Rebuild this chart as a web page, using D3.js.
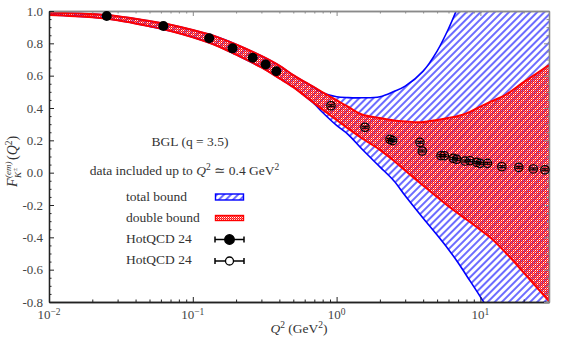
<!DOCTYPE html>
<html>
<head>
<meta charset="utf-8">
<script src="https://cdn.jsdelivr.net/npm/d3@7"></script>
<style>
  body { margin: 0; background: #fff; }
  svg text { font-family: "Liberation Serif", "DejaVu Serif", serif; }
</style>
</head>
<body>
<svg width="567" height="340"></svg>
<script>
// band grid (Q^2 in GeV^2) and double bound edges
const bandQ2 = [0.01, 0.02, 0.03, 0.05, 0.07, 0.1, 0.15, 0.2, 0.3, 0.4, 0.5, 0.6, 0.7, 0.8, 1, 1.2, 1.5, 2, 2.5, 3, 4, 5, 6, 7, 8, 10, 12, 15, 20, 25, 30];
const doubleUpper = [0.991, 0.981, 0.968, 0.938, 0.915, 0.882, 0.837, 0.793, 0.722, 0.662, 0.603, 0.561, 0.527, 0.497, 0.448, 0.408, 0.360, 0.338, 0.323, 0.317, 0.313, 0.326, 0.339, 0.351, 0.367, 0.409, 0.442, 0.482, 0.560, 0.618, 0.666];
const doubleLower = [0.975, 0.961, 0.943, 0.905, 0.876, 0.837, 0.782, 0.730, 0.651, 0.583, 0.529, 0.475, 0.429, 0.390, 0.326, 0.274, 0.213, 0.141, 0.074, 0.014, -0.080, -0.151, -0.208, -0.253, -0.290, -0.354, -0.409, -0.495, -0.618, -0.715, -0.795];

// total bound edges
const totalUpperQ2 = [0.01, 0.02, 0.03, 0.05, 0.07, 0.1, 0.15, 0.2, 0.3, 0.4, 0.5, 0.6, 0.7, 0.8, 1, 1.2, 1.5, 2, 2.5, 3, 4, 5, 6, 7];
const totalUpper = [0.991, 0.981, 0.968, 0.938, 0.915, 0.882, 0.837, 0.793, 0.722, 0.662, 0.603, 0.561, 0.527, 0.495, 0.470, 0.464, 0.463, 0.470, 0.502, 0.535, 0.628, 0.752, 0.890, 1.03];
const totalLowerQ2 = [0.01, 0.02, 0.03, 0.05, 0.07, 0.1, 0.15, 0.2, 0.3, 0.4, 0.5, 0.6, 0.7, 0.8, 1, 1.2, 1.5, 2, 2.5, 3, 4, 5, 6, 7, 8, 10, 12];
const totalLower = [0.975, 0.961, 0.943, 0.905, 0.876, 0.837, 0.782, 0.730, 0.651, 0.583, 0.529, 0.475, 0.425, 0.372, 0.292, 0.237, 0.146, 0.036, -0.050, -0.143, -0.282, -0.386, -0.475, -0.557, -0.636, -0.768, -0.88];

// HotQCD 24 lattice points (filled: used in fit, open: not used)
const filledQ2 = [0.0252, 0.0624, 0.130, 0.189, 0.261, 0.321, 0.381];
const filledF = [0.969, 0.907, 0.831, 0.769, 0.711, 0.669, 0.627];
const filledErr = [0.004, 0.004, 0.005, 0.005, 0.005, 0.005, 0.005];
const openQ2 = [0.914, 1.576, 2.35, 2.455, 3.80, 3.94, 5.32, 5.61, 6.48, 6.84, 7.82, 8.47, 9.42, 9.94, 11.2, 14.1, 18.5, 23.3, 28.1];
const openF = [0.414, 0.281, 0.206, 0.198, 0.188, 0.134, 0.105, 0.105, 0.089, 0.083, 0.072, 0.074, 0.064, 0.058, 0.058, 0.037, 0.033, 0.023, 0.018];
const openErr = [0.006, 0.006, 0.006, 0.006, 0.006, 0.006, 0.006, 0.006, 0.006, 0.006, 0.006, 0.006, 0.006, 0.006, 0.006, 0.006, 0.006, 0.006, 0.006];

// ticks
const yMajor = [-0.8, -0.6, -0.4, -0.2, 0.0, 0.2, 0.4, 0.6, 0.8, 1.0];
const xMajor = [0.01, 0.1, 1, 10];
const xExp = ["\u22122", "\u22121", "0", "1"];

const svg = d3.select("svg");
const margin = { top: 11, right: 18, bottom: 38, left: 49 };
const width = +svg.attr("width") - margin.left - margin.right;
const height = +svg.attr("height") - margin.top - margin.bottom;

const x = d3.scaleLog().domain([0.01, 30]).range([0, width]);
const y = d3.scaleLinear().domain([-0.8, 1.0]).range([height, 0]);

const defs = svg.append("defs");
defs.append("clipPath").attr("id", "plotclip")
  .append("rect").attr("width", width).attr("height", height);

const hatch = defs.append("pattern").attr("id", "hatch")
  .attr("patternUnits", "userSpaceOnUse")
  .attr("width", 5).attr("height", 5)
  .attr("patternTransform", "rotate(45)");
hatch.append("line").attr("x1", 1).attr("y1", 0).attr("x2", 1).attr("y2", 5)
  .attr("stroke", "#0a0aff").attr("stroke-width", 1.2);

// fine red dot texture, one cell left open so the hatch shows through
const cross = defs.append("pattern").attr("id", "cross")
  .attr("patternUnits", "userSpaceOnUse")
  .attr("width", 2).attr("height", 2);
[[0, 0, 1], [1, 1, 1], [1, 0, 0.6]].forEach(([a, b, o]) => {
  cross.append("rect").attr("x", a).attr("y", b).attr("width", 1).attr("height", 1)
    .attr("fill", "#ff1414").attr("fill-opacity", o).attr("shape-rendering", "crispEdges");
});

const g = svg.append("g").attr("transform", `translate(${margin.left},${margin.top})`);
const plot = g.append("g").attr("clip-path", "url(#plotclip)");

const pts = (qs, vs) => qs.map((q, i) => ({ q, v: vs[i] }));
const upPts = pts(totalUpperQ2, totalUpper);
const loPts = pts(totalLowerQ2, totalLower);
const band = bandQ2.map((q, i) => ({ q, hi: doubleUpper[i], lo: doubleLower[i] }));

const line = d3.line().x(d => x(d.q)).y(d => y(d.v)).curve(d3.curveCatmullRom);

// total bound fill: upper edge, out past the right side, back along lower edge
const upPath = line(upPts);
const loRev = line(loPts.slice().reverse()).replace(/^M/, "L");
const lastUp = upPts[upPts.length - 1];
const lastLo = loPts[loPts.length - 1];
const totalPath = upPath +
  `L${x(30) + 5},${y(lastUp.v)}L${x(30) + 5},${y(lastLo.v)}` + loRev + "Z";

plot.append("path").attr("d", totalPath).attr("fill", "url(#hatch)").attr("stroke", "none");

const area = d3.area().x(d => x(d.q)).y0(d => y(d.lo)).y1(d => y(d.hi)).curve(d3.curveCatmullRom);
plot.append("path").datum(band).attr("d", area).attr("fill", "url(#cross)");

[upPts, loPts].forEach(p => {
  plot.append("path").attr("d", line(p)).attr("fill", "none")
    .attr("stroke", "#0000ff").attr("stroke-width", 1.6);
});
[pts(bandQ2, doubleUpper), pts(bandQ2, doubleLower)].forEach(p => {
  plot.append("path").attr("d", line(p)).attr("fill", "none")
    .attr("stroke", "#ff0000").attr("stroke-width", 2);
});

// axes
const minorX = [];
[-2, -1, 0, 1].forEach(k => {
  for (let m = 2; m <= 9; m++) {
    const v = m * Math.pow(10, k);
    if (v <= 30) minorX.push(v);
  }
});
const minorY = d3.range(0, 37).filter(i => i % 4 !== 0).map(i => -0.8 + i * 0.05);

function styleAxis(sel, color) {
  sel.select(".domain").attr("stroke", color).attr("stroke-width", 1.3);
  sel.selectAll(".tick line").attr("stroke", color).attr("stroke-width", 1);
  sel.selectAll(".tick text").remove();
}

const axes = [
  [d3.axisBottom(x).tickValues(xMajor).tickSizeInner(-5), `translate(0,${height})`, "#222"],
  [d3.axisBottom(x).tickValues(minorX).tickSizeInner(-2.5), `translate(0,${height})`, "#222"],
  [d3.axisTop(x).tickValues(xMajor).tickSizeInner(-5), "translate(0,0)", "#8a8a8a"],
  [d3.axisTop(x).tickValues(minorX).tickSizeInner(-2.5), "translate(0,0)", "#8a8a8a"],
  [d3.axisRight(y).tickValues(yMajor).tickSizeInner(-5), `translate(${width},0)`, "#8a8a8a"],
  [d3.axisRight(y).tickValues(minorY).tickSizeInner(-2.5), `translate(${width},0)`, "#8a8a8a"],
  [d3.axisLeft(y).tickValues(minorY).tickSizeInner(-2.5), "translate(0,0)", "#222"]
];
axes.forEach(([ax, tr, col]) => {
  const a = g.append("g").attr("transform", tr).call(ax.tickSizeOuter(0));
  styleAxis(a, col);
});

const yAxis = g.append("g").call(d3.axisLeft(y).tickValues(yMajor).tickSizeInner(-5)
  .tickSizeOuter(0).tickPadding(6).tickFormat(d => d.toFixed(1)));
yAxis.select(".domain").attr("stroke", "#222").attr("stroke-width", 1.3);
yAxis.selectAll(".tick line").attr("stroke", "#222");
yAxis.selectAll(".tick text").attr("font-family", null).attr("font-size", 13).attr("fill", "#444");

const xl = g.append("g").selectAll("text").data(xMajor).enter().append("text")
  .attr("x", d => x(d)).attr("y", height + 17)
  .attr("text-anchor", "middle").attr("font-size", 13).attr("fill", "#444");
xl.append("tspan").text("10");
xl.append("tspan").attr("dy", -4.5).attr("font-size", 9.5).text((d, i) => xExp[i]);

// data points
const openData = openQ2.map((q, i) => ({ q, v: openF[i], e: openErr[i] }));
const filledData = filledQ2.map((q, i) => ({ q, v: filledF[i], e: filledErr[i] }));

const errG = g.append("g").attr("stroke", "#000").attr("stroke-width", 1.2);
[...openData, ...filledData].forEach(d => {
  const cx = x(d.q);
  errG.append("line").attr("x1", cx).attr("x2", cx).attr("y1", y(d.v - d.e)).attr("y2", y(d.v + d.e));
  [d.v - d.e, d.v + d.e].forEach(t => {
    errG.append("line").attr("x1", cx - 3.3).attr("x2", cx + 3.3).attr("y1", y(t)).attr("y2", y(t));
  });
});

g.append("g").selectAll("circle").data(openData).enter().append("circle")
  .attr("cx", d => x(d.q)).attr("cy", d => y(d.v)).attr("r", 4.2)
  .attr("fill", "none").attr("stroke", "#000").attr("stroke-width", 1.2);

g.append("g").selectAll("circle").data(filledData).enter().append("circle")
  .attr("cx", d => x(d.q)).attr("cy", d => y(d.v)).attr("r", 5)
  .attr("fill", "#000");

// axis titles
const xt = svg.append("text").attr("x", 299).attr("y", 333)
  .attr("text-anchor", "middle").attr("font-size", 13.5).attr("fill", "#333");
xt.append("tspan").attr("font-style", "italic").text("Q");
xt.append("tspan").attr("dy", -5).attr("font-size", 9.5).text("2");
xt.append("tspan").attr("dy", 5).text(" (GeV");
xt.append("tspan").attr("dy", -5).attr("font-size", 9.5).text("2");
xt.append("tspan").attr("dy", 5).text(")");

const yt = svg.append("g").attr("transform", "translate(17,157) rotate(-90)")
  .attr("fill", "#333");
yt.append("text").attr("x", -30).attr("font-size", 14).attr("font-style", "italic").text("F");
yt.append("text").attr("x", -21).attr("y", -6).attr("font-size", 9).attr("font-style", "italic").text("(em)");
yt.append("text").attr("x", -21).attr("y", 3.5).attr("font-size", 9).attr("font-style", "italic").text("K");
yt.append("text").attr("x", -14.5).attr("y", 0).attr("font-size", 7).text("\u00b1");
const ytq = yt.append("text").attr("x", -3).attr("font-size", 14);
ytq.append("tspan").text("(");
ytq.append("tspan").attr("font-style", "italic").text("Q");
ytq.append("tspan").attr("dy", -5).attr("font-size", 9.5).text("2");
ytq.append("tspan").attr("dy", 5).text(")");

// annotations
svg.append("text").attr("x", 190).attr("y", 146).attr("text-anchor", "middle")
  .attr("font-size", 13.5).attr("fill", "#333").text("BGL (q = 3.5)");
const note = svg.append("text").attr("x", 184.5).attr("y", 175).attr("text-anchor", "middle")
  .attr("font-size", 13.5).attr("fill", "#333");
note.append("tspan").text("data included up to ");
note.append("tspan").attr("font-style", "italic").text("Q");
note.append("tspan").attr("dy", -5).attr("font-size", 9.5).text("2");
note.append("tspan").attr("dy", 5).text(" \u2243 0.4 GeV");
note.append("tspan").attr("dy", -5).attr("font-size", 9.5).text("2");

// legend
const legendLabels = ["total bound", "double bound", "HotQCD 24", "HotQCD 24"];
const legendY = [201, 222, 243, 264];
svg.append("g").selectAll("text").data(legendLabels).enter().append("text")
  .attr("x", 126).attr("y", (d, i) => legendY[i])
  .attr("font-size", 13.5).attr("fill", "#333").text(d => d);

svg.append("rect").attr("x", 215.5).attr("y", 194).attr("width", 28).attr("height", 6)
  .attr("fill", "url(#hatch)").attr("stroke", "#0000ff").attr("stroke-width", 1.4);
svg.append("rect").attr("x", 215.5).attr("y", 215.5).attr("width", 28).attr("height", 5)
  .attr("fill", "url(#cross)").attr("stroke", "#ff0000").attr("stroke-width", 1.4);

[239.5, 261].forEach((ly, i) => {
  const lg = svg.append("g").attr("stroke", "#000").attr("stroke-width", 1.5);
  lg.append("line").attr("x1", 215).attr("x2", 244).attr("y1", ly).attr("y2", ly);
  lg.append("line").attr("x1", 215).attr("x2", 215).attr("y1", ly - 3).attr("y2", ly + 3);
  lg.append("line").attr("x1", 244).attr("x2", 244).attr("y1", ly - 3).attr("y2", ly + 3);
  lg.append("circle").attr("cx", 229.5).attr("cy", ly).attr("r", i === 0 ? 4.8 : 4)
    .attr("fill", i === 0 ? "#000" : "#fff").attr("stroke-width", 1.3);
});
</script>
</body>
</html>
